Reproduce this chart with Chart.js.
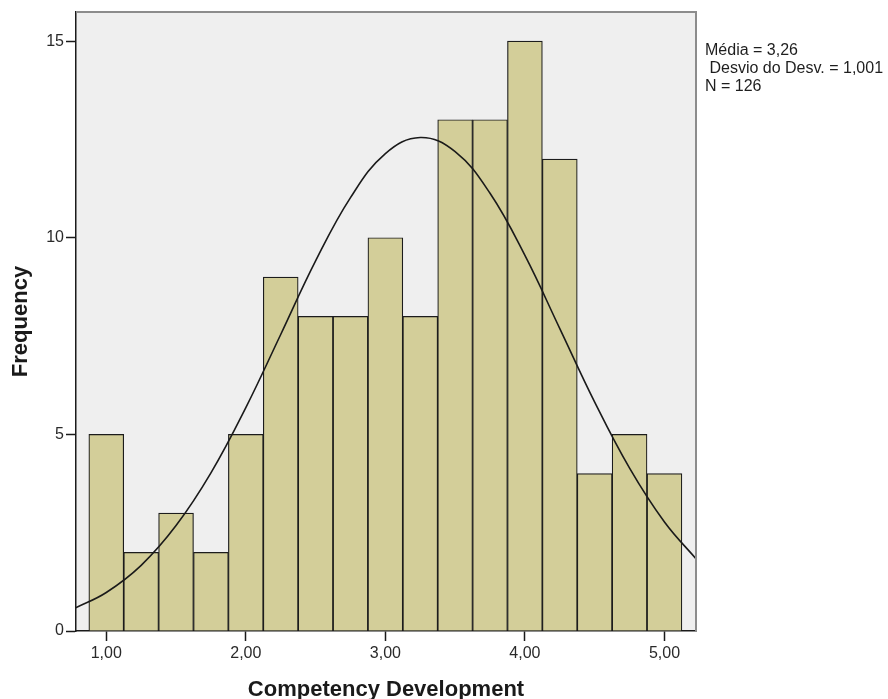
<!DOCTYPE html>
<html>
<head>
<meta charset="utf-8">
<title>Competency Development</title>
<script src="https://cdn.jsdelivr.net/npm/chart.js@4.4.1/dist/chart.umd.min.js"></script>
<style>
    body { margin: 0; background: #fff; }
    #wrap { width: 888px; height: 699px; }
</style>
</head>
<body>
<div id="wrap"><canvas id="chartHist" width="888" height="699"></canvas></div>
<script>
// ── Data ─────────────────────────────────
const binCenters  = [1.00, 1.25, 1.50, 1.75, 2.00, 2.25, 2.50, 2.75, 3.00,
                     3.25, 3.50, 3.75, 4.00, 4.25, 4.50, 4.75, 5.00];
const frequencies = [5, 2, 3, 2, 5, 9, 8, 8, 10, 8, 13, 13, 15, 12, 4, 5, 4];

// normal curve
const curveX = [0.78, 1.00, 1.25, 1.50, 1.75, 2.00, 2.25, 2.50, 2.75, 3.00,
                3.25, 3.50, 3.75, 4.00, 4.25, 4.50, 4.75, 5.00, 5.23];
const curveY = [0.59, 0.98, 1.67, 2.68, 4.02, 5.68, 7.54, 9.41, 11.02, 12.14,
                12.55, 12.19, 11.13, 9.55, 7.69, 5.82, 4.14, 2.77, 1.82];

const xTicks = [1, 2, 3, 4, 5];
const yTicks = [0, 5, 10, 15];
const statsLines = ['Média = 3,26', ' Desvio do Desv. = 1,001', 'N = 126'];

const FONT = "'Liberation Sans', Arial, sans-serif";

// ── Plot background + frame + stats text ──
const plotDecor = {
    id: 'plotDecor',
    beforeDraw: function(chart) {
        const a = chart.chartArea, c = chart.ctx;
        c.save();
        c.fillStyle = '#efefef';
        c.fillRect(a.left, a.top, a.right - a.left, a.bottom - a.top);
        c.restore();
    },
    afterDraw: function(chart) {
        const a = chart.chartArea, c = chart.ctx;
        c.save();
        c.strokeStyle = '#8c8c8c';
        c.lineWidth = 2;
        c.beginPath();
        c.moveTo(a.left, a.top);
        c.lineTo(a.right, a.top);
        c.lineTo(a.right, a.bottom);
        c.stroke();
        c.fillStyle = '#1e1e1e';
        c.font = '16px ' + FONT;
        c.textBaseline = 'middle';
        statsLines.forEach(function(t, i) {
            c.fillText(t, 705, 51 + i * 18);
        });
        c.restore();
    }
};

const ctx = document.getElementById('chartHist');

new Chart(ctx, {
    type: 'bar',
    data: {
        datasets: [
            {
                type: 'line',
                data: curveX.map(function(x, i) { return { x: x, y: curveY[i] }; }),
                borderColor: '#1a1a1a',
                borderWidth: 1.6,
                pointRadius: 0,
                tension: 0.4,
                fill: false,
                order: 0
            },
            {
                type: 'bar',
                data: binCenters.map(function(x, i) { return { x: x, y: frequencies[i] }; }),
                backgroundColor: '#d3ce99',
                borderColor: '#1c1c1c',
                borderWidth: 1.2,
                barPercentage: 1,
                categoryPercentage: 1,
                order: 1
            }
        ]
    },
    options: {
        responsive: false,
        animation: false,
        layout: { padding: { top: 12, right: 192, left: 0, bottom: 0 } },
        plugins: {
            legend: { display: false },
            tooltip: { enabled: false }
        },
        scales: {
            x: {
                type: 'linear',
                min: 0.783,
                max: 5.226,
                offset: false,
                afterFit: function(s) { s.height = 68; },
                afterBuildTicks: function(s) {
                    s.ticks = xTicks.map(function(v) { return { value: v }; });
                },
                grid: {
                    offset: false,
                    drawOnChartArea: false,
                    tickLength: 10,
                    tickColor: '#1a1a1a',
                    tickWidth: 1.5
                },
                border: { color: '#1a1a1a', width: 1.5 },
                ticks: {
                    font: { family: FONT, size: 16 },
                    color: '#2a2a2a',
                    padding: 3,
                    maxRotation: 0,
                    callback: function(v) { return v.toFixed(2).replace('.', ','); }
                },
                title: {
                    display: true,
                    text: 'Competency Development',
                    font: { family: FONT, size: 22, weight: 'bold', lineHeight: 0.8 },
                    color: '#1a1a1a',
                    padding: { top: 0, bottom: 0 }
                }
            },
            y: {
                min: 0,
                max: 15.74,
                afterFit: function(s) { s.width = 76; },
                afterBuildTicks: function(s) {
                    s.ticks = yTicks.map(function(v) { return { value: v }; });
                },
                grid: {
                    drawOnChartArea: false,
                    tickLength: 10,
                    tickColor: '#1a1a1a',
                    tickWidth: 1.5
                },
                border: { color: '#1a1a1a', width: 1.5 },
                ticks: {
                    font: { family: FONT, size: 16 },
                    color: '#2a2a2a',
                    padding: 2
                },
                title: {
                    display: true,
                    text: 'Frequency',
                    font: { family: FONT, size: 22, weight: 'bold', lineHeight: 1 },
                    color: '#1a1a1a',
                    padding: { top: 10, bottom: 0 }
                }
            }
        }
    },
    plugins: [plotDecor]
});
</script>
</body>
</html>
